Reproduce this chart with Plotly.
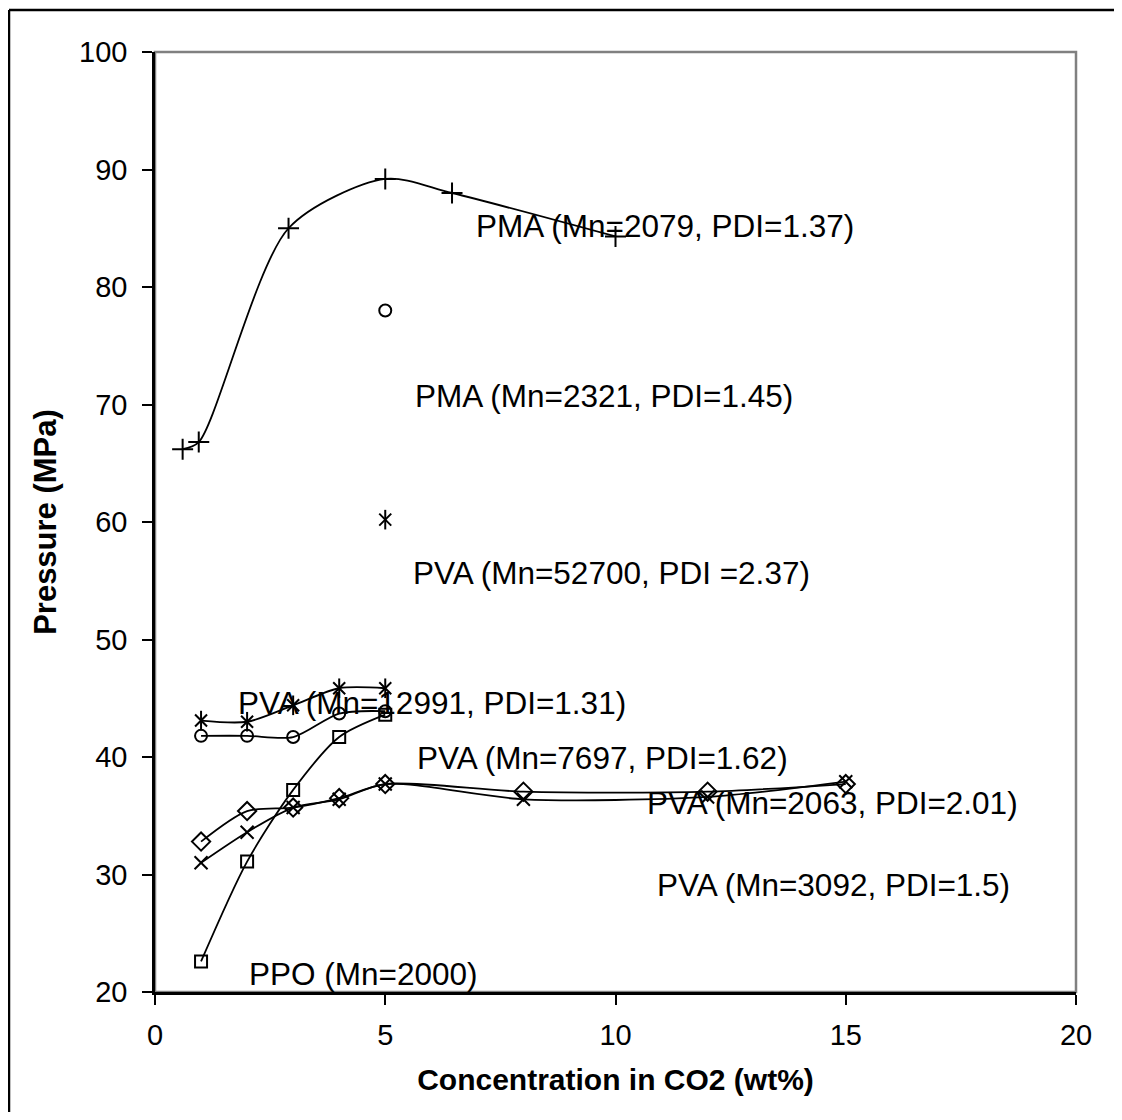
import plotly.graph_objects as go

# ---- data ----
pma2079_x = [0.6, 0.95, 2.9, 5.0, 6.45, 10.0]
pma2079_y = [66.2, 66.8, 85.0, 89.2, 88.0, 84.3]

pma2321_x = [5.0]
pma2321_y = [78.0]

pva52700_x = [5.0]
pva52700_y = [60.2]

pva12991_x = [1, 2, 3, 4, 5]
pva12991_y = [43.1, 43.0, 44.4, 45.85, 45.85]

circ_x = [1, 2, 3, 4, 5]
circ_y = [41.8, 41.8, 41.7, 43.7, 43.9]

ppo_x = [1, 2, 3, 4, 5]
ppo_y = [22.6, 31.1, 37.2, 41.7, 43.6]

diam_x = [1, 2, 3, 4, 5, 8, 12, 15]
diam_y = [32.8, 35.4, 35.7, 36.5, 37.7, 37.05, 37.05, 37.7]

xser_x = [1, 2, 3, 4, 5, 8, 12, 15]
xser_y = [31.0, 33.6, 35.7, 36.4, 37.7, 36.4, 36.6, 37.9]

labels = ["PMA (Mn=2079, PDI=1.37)", "PMA (Mn=2321, PDI=1.45)",
          "PVA (Mn=52700, PDI =2.37)", "PVA (Mn=12991, PDI=1.31)",
          "PVA (Mn=7697, PDI=1.62)", "PVA (Mn=2063, PDI=2.01)",
          "PVA (Mn=3092, PDI=1.5)", "PPO (Mn=2000)"]
label_x = [6.93, 5.6, 5.56, 1.76, 5.65, 10.64, 10.86, 1.99]
label_y = [85.2, 70.7, 55.7, 44.6, 39.9, 36.1, 29.1, 21.5]

FONT = "Arial, Liberation Sans, sans-serif"
BLACK = "black"

fig = go.Figure()

def line_trace(x, y, symbol, size=12):
    fig.add_trace(go.Scatter(
        x=x, y=y, mode="lines+markers",
        line=dict(color=BLACK, width=1.8, shape="spline", smoothing=0.8),
        marker=dict(symbol=symbol, size=size, color=BLACK,
                    line=dict(color=BLACK, width=2)),
        showlegend=False, cliponaxis=False))

def marker_trace(x, y, symbol, size=12):
    fig.add_trace(go.Scatter(
        x=x, y=y, mode="markers",
        marker=dict(symbol=symbol, size=size, color=BLACK,
                    line=dict(color=BLACK, width=2)),
        showlegend=False, cliponaxis=False))

line_trace(pma2079_x, pma2079_y, "cross-thin-open", 15)
marker_trace(pma2321_x, pma2321_y, "circle-open", 12)
marker_trace(pva52700_x, pva52700_y, "x-thin-open", 12)
marker_trace(pva52700_x, pva52700_y, "line-ns-open", 14)
line_trace(pva12991_x, pva12991_y, "x-thin-open", 12)
marker_trace(pva12991_x, pva12991_y, "line-ns-open", 14)
line_trace(circ_x, circ_y, "circle-open", 12)
line_trace(ppo_x, ppo_y, "square-open", 12)
line_trace(diam_x, diam_y, "diamond-open", 14)
line_trace(xser_x, xser_y, "x-thin-open", 13)

for t, lx, ly in zip(labels, label_x, label_y):
    fig.add_annotation(x=lx, y=ly, text=t, showarrow=False,
                       xanchor="left", yanchor="middle",
                       font=dict(family=FONT, size=31.5, color=BLACK))

# page body has an 8px margin, so the figure is offset by (8, 8);
# keep the page inside the 1122x1120 window (no scrollbars)
OFF = 8
W, H = 1122 - 2 * OFF, 1120 - 2 * OFF
L, T = 155 - OFF, 52 - OFF
R = W - (1076 - OFF)
B = H - (992 - OFF)
pw, ph = W - L - R, H - T - B

# plot-area border (grey)
fig.add_shape(type="rect", xref="paper", yref="paper", x0=0, y0=0, x1=1, y1=1,
              line=dict(color="#808080", width=2.5), layer="below")
# outer chart frame: only top and left edges are visible in the reference
fx0 = (1 - L) / pw
fx1 = (W - L) / pw
fy_top = 1 - (2 - T) / ph
fy_bot = 1 - (H - T) / ph
fig.add_shape(type="line", xref="paper", yref="paper",
              x0=fx0, x1=fx1, y0=fy_top, y1=fy_top,
              line=dict(color=BLACK, width=2.5), layer="below")
fig.add_shape(type="line", xref="paper", yref="paper",
              x0=fx0, x1=fx0, y0=fy_top, y1=fy_bot,
              line=dict(color=BLACK, width=2.5), layer="below")

fig.update_layout(
    width=W, height=H,
    margin=dict(l=L, r=R, t=T, b=B),
    paper_bgcolor="white", plot_bgcolor="white",
    font=dict(family=FONT, size=29, color=BLACK),
    xaxis=dict(range=[0, 20], dtick=5, tick0=0, showgrid=False, zeroline=False,
               showline=True, linecolor=BLACK, linewidth=2.5,
               ticks="outside", ticklen=10, tickwidth=2, tickcolor=BLACK,
               ticklabelstandoff=5,
               tickfont=dict(family=FONT, size=29),
               title=dict(text="<b>Concentration in CO2 (wt%)</b>",
                          font=dict(family=FONT, size=30), standoff=20)),
    yaxis=dict(range=[20, 100], dtick=10, tick0=20, showgrid=False, zeroline=False,
               showline=True, linecolor=BLACK, linewidth=2.5,
               ticks="outside", ticklen=10, tickwidth=2, tickcolor=BLACK,
               ticklabelstandoff=9,
               tickfont=dict(family=FONT, size=29),
               title=dict(text="<b>Pressure (MPa)</b>",
                          font=dict(family=FONT, size=31), standoff=14)),
)

fig.write_html("out.html")
